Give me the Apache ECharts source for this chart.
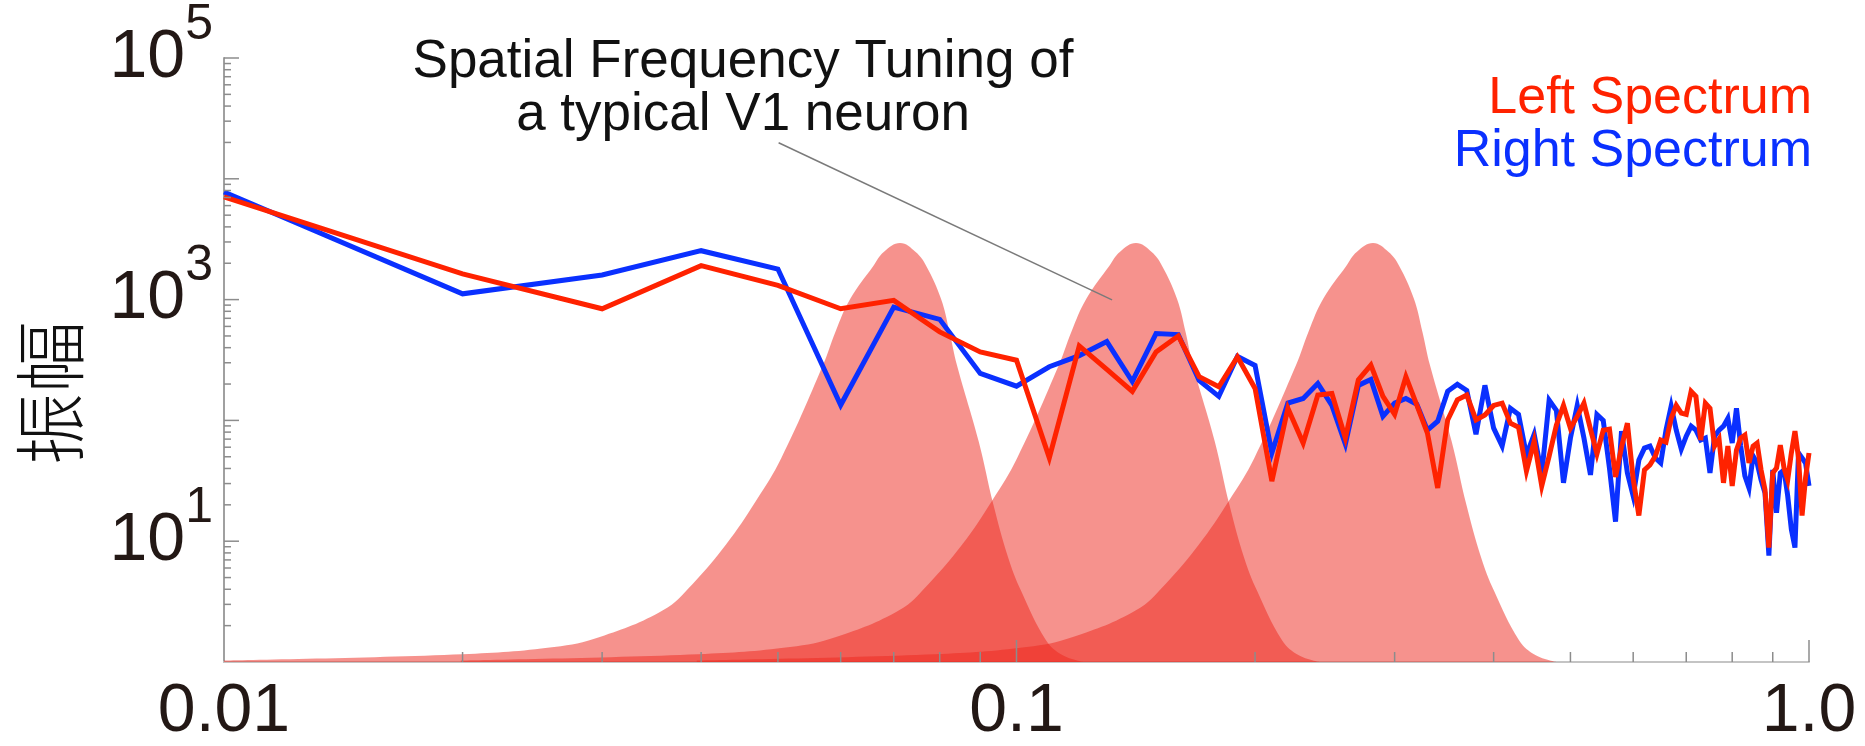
<!DOCTYPE html>
<html>
<head>
<meta charset="utf-8">
<title>Spatial Frequency Spectrum</title>
<script src="https://cdn.jsdelivr.net/npm/echarts@6/dist/echarts.min.js"></script>
<style>
    html, body { margin: 0; padding: 0; background: #fff; }
    #chart { width: 1865px; height: 746px; }
</style>
</head>
<body>
<div id="chart"></div>
<script>
// --- data ---

// spatial frequency, one sample every 0.01
const freqs = [
    0.01, 0.02, 0.03, 0.04, 0.05, 0.06, 0.07, 0.08, 0.09, 0.10,
    0.11, 0.12, 0.13, 0.14, 0.15, 0.16, 0.17, 0.18, 0.19, 0.20,
    0.21, 0.22, 0.23, 0.24, 0.25, 0.26, 0.27, 0.28, 0.29, 0.30,
    0.31, 0.32, 0.33, 0.34, 0.35, 0.36, 0.37, 0.38, 0.39, 0.40,
    0.41, 0.42, 0.43, 0.44, 0.45, 0.46, 0.47, 0.48, 0.49, 0.50,
    0.51, 0.52, 0.53, 0.54, 0.55, 0.56, 0.57, 0.58, 0.59, 0.60,
    0.61, 0.62, 0.63, 0.64, 0.65, 0.66, 0.67, 0.68, 0.69, 0.70,
    0.71, 0.72, 0.73, 0.74, 0.75, 0.76, 0.77, 0.78, 0.79, 0.80,
    0.81, 0.82, 0.83, 0.84, 0.85, 0.86, 0.87, 0.88, 0.89, 0.90,
    0.91, 0.92, 0.93, 0.94, 0.95, 0.96, 0.97, 0.98, 0.99, 1.00
];

const leftSpectrum = [
    7100, 1630, 840, 1910, 1310, 840, 985, 540, 369, 315,
    49, 414, 264, 174, 369, 500, 230, 190, 336, 184,
    31.4, 126, 65, 162, 167, 71.4, 216, 287, 158, 112,
    230, 134, 78.5, 27.6, 101, 148, 162, 101, 111, 133,
    139, 94.8, 87.9, 38.1, 67.4, 28.7, 50.7, 91.3, 133, 86.2,
    108, 139, 84.6, 52.7, 83, 84.6, 34, 60.1, 94.8, 32.8,
    16.3, 38.9, 42.8, 50.7, 68.7, 66.1, 104, 133, 115, 112,
    174, 158, 68.7, 139, 126, 61.3, 70, 30.4, 61.3, 28.7,
    56.8, 71.4, 75.5, 44.4, 61.3, 65, 38.9, 26.6, 8.85, 36.7,
    40.4, 62.5, 40.4, 32.2, 53.7, 81.5, 48.8, 16.3, 33.4, 53.7
];

const rightSpectrum = [
    7770, 1116, 1600, 2540, 1790, 134, 867, 686, 245, 192,
    278, 344, 449, 210, 523, 513, 214, 158, 338, 285,
    53.7, 139, 152, 202, 133, 63.7, 195, 218, 108, 139,
    152, 136, 83, 98.5, 174, 199, 177, 76.9, 195, 86.2,
    61.3, 126, 112, 51.7, 76.9, 36, 147, 121, 30.4, 71.4,
    133, 71.4, 35.4, 112, 100, 40.4, 14.5, 81.5, 36.7, 23.7,
    47, 59, 61.3, 48.8, 44.4, 83, 131, 83, 57.9, 74.1,
    89.6, 83, 68.7, 71.4, 36.7, 74.1, 83, 89.6, 104, 65,
    126, 61.3, 34.7, 27.6, 50.7, 44.4, 32.2, 25.1, 7.61, 38.9,
    17.2, 36.7, 38.9, 23.7, 12.5, 8.85, 53.7, 48.8, 44.4, 28.7
];

// tuning curves of the neuron (same profile, three preferred frequencies)
const tuningAmp = [1.03, 1.16, 1.33, 1.61, 2.68, 4.41, 9.37, 21.5, 48.8, 287, 543, 1016, 1910, 2477, 2940,
                   2477, 1910, 1016, 543, 287, 67, 20.1, 7.33, 3.90, 1.51, 1.14, 1.0];
const tuningFreqA = [0.01, 0.02, 0.0261, 0.0298, 0.0358, 0.0390, 0.0430, 0.0469, 0.0505, 0.0570, 0.0591, 0.0617, 0.0660, 0.0680, 0.0713,
                     0.0746, 0.0769, 0.0803, 0.0823, 0.0841, 0.0896, 0.0935, 0.0976, 0.1013, 0.1090, 0.1144, 0.1217];
const tuningFreqB = [0.0199, 0.0397, 0.0518, 0.0592, 0.0711, 0.0774, 0.0854, 0.0931, 0.1002, 0.1131, 0.1173, 0.1225, 0.1310, 0.1350, 0.1415,
                     0.1481, 0.1526, 0.1594, 0.1634, 0.1669, 0.1779, 0.1856, 0.1937, 0.2011, 0.2164, 0.2271, 0.2416];
const tuningFreqC = [0.0395, 0.0790, 0.1031, 0.1178, 0.1415, 0.1541, 0.1699, 0.1853, 0.1996, 0.2253, 0.2336, 0.2438, 0.2608, 0.2687, 0.2818,
                     0.2948, 0.3039, 0.3173, 0.3252, 0.3324, 0.3541, 0.3695, 0.3857, 0.4003, 0.4308, 0.4521, 0.4810];

// axis ticks and labels
const xMajorTicks = [0.1, 1];
const xMinorTicks = [0.02, 0.03, 0.04, 0.05, 0.06, 0.07, 0.08, 0.09, 0.2, 0.3, 0.4, 0.5, 0.6, 0.7, 0.8, 0.9];
const yMajorTicks = [10, 100, 1000, 10000, 100000];
const yMinorTicks = [
    2, 3, 4, 5, 6, 7, 8, 9,
    20, 30, 40, 50, 60, 70, 80, 90,
    200, 300, 400, 500, 600, 700, 800, 900,
    2000, 3000, 4000, 5000, 6000, 7000, 8000, 9000,
    20000, 30000, 40000, 50000, 60000, 70000, 80000, 90000
];
const xTickLabels = ['0.01', '0.1', '1.0'];   // for 10^-2, 10^-1, 10^0
const yLabelExponents = [1, 3, 5];

// annotation pointer (data coords)
const pointerFrom = [0.0501, 19900];
const pointerTo = [0.132, 996];

// --- chart ---
const RED = '#ff2200';
const BLUE = '#0a30ff';
const INK = '#231815';
const LATIN = '"Liberation Sans", Arial, Helvetica, sans-serif';

const chart = echarts.init(document.getElementById('chart'));

const tuningSeries = [tuningFreqA, tuningFreqB, tuningFreqC].map((fs, n) => ({
    name: 'tuning' + n,
    type: 'line',
    data: fs.map((f, i) => [f, tuningAmp[i]]),
    smooth: 0.4,
    symbol: 'none',
    silent: true,
    lineStyle: { width: 0, opacity: 0 },
    areaStyle: { color: 'rgba(237, 37, 27, 0.5)', opacity: 1, origin: 'start' },
    z: 1
}));

// tick marks: [value, otherCoord, onXAxis(1/0), major(1/0)]
const tickData = [];
xMinorTicks.forEach(v => tickData.push([v, 1, 1, 0]));
xMajorTicks.forEach(v => tickData.push([v, 1, 1, 1]));
yMinorTicks.forEach(v => tickData.push([0.01, v, 0, 0]));
yMajorTicks.forEach(v => tickData.push([0.01, v, 0, 1]));

function renderTick(params, api) {
    const onX = api.value(2) === 1;
    const major = api.value(3) === 1;
    const p = api.coord([api.value(0), api.value(1)]);
    const len = major ? (onX ? 22 : 15) : (onX ? 10 : 7);
    const shape = onX
        ? { x1: p[0], y1: p[1], x2: p[0], y2: p[1] - len }
        : { x1: p[0], y1: p[1], x2: p[0] + len, y2: p[1] };
    return { type: 'line', shape: shape, style: { stroke: '#8c8c8c', lineWidth: 1.5 } };
}

const option = {
    animation: false,
    backgroundColor: '#ffffff',
    grid: { left: 224, right: 56, top: 58, bottom: 81, containLabel: false },
    xAxis: {
        type: 'log',
        logBase: 10,
        min: 0.01,
        max: 1,
        axisLine: { show: true, lineStyle: { color: '#c4c4c4', width: 2 } },
        axisTick: { show: false },
        splitLine: { show: false },
        axisLabel: {
            showMinLabel: true,
            showMaxLabel: true,
            margin: 16,
            color: INK,
            fontSize: 68,
            fontFamily: LATIN,
            formatter: v => xTickLabels[Math.round(Math.log10(v)) + 2] || ''
        }
    },
    yAxis: {
        type: 'log',
        logBase: 10,
        min: 1,
        max: 100000,
        axisLine: { show: true, lineStyle: { color: '#a0a0a0', width: 2 } },
        axisTick: { show: false },
        splitLine: { show: false },
        axisLabel: {
            showMinLabel: true,
            showMaxLabel: true,
            margin: 11,
            formatter: v => {
                const e = Math.round(Math.log10(v));
                return yLabelExponents.includes(e) ? '{b|10}{s|' + e + '}' : '';
            },
            rich: {
                b: { fontSize: 68, lineHeight: 70, color: INK, fontFamily: LATIN },
                s: { fontSize: 50, lineHeight: 50, color: INK, fontFamily: LATIN, padding: [0, 0, 66, 0] }
            }
        }
    },
    graphic: [
        {
            type: 'text', x: 743, y: 36,
            style: {
                text: 'Spatial Frequency Tuning of\na typical V1 neuron',
                font: '53px ' + LATIN, fill: '#111', align: 'center', verticalAlign: 'top', lineHeight: 53
            }
        },
        {
            type: 'text', x: 1812, y: 99,
            style: { text: 'Left Spectrum', font: '52px ' + LATIN, fill: RED, align: 'right', verticalAlign: 'middle' }
        },
        {
            type: 'text', x: 1812, y: 152,
            style: { text: 'Right Spectrum', font: '52px ' + LATIN, fill: BLUE, align: 'right', verticalAlign: 'middle' }
        },
        {
            type: 'text', x: 50, y: 393, rotation: Math.PI / 2,
            style: { text: '振幅', font: '300 72px "Noto Sans CJK SC", sans-serif', fill: '#111', align: 'center', verticalAlign: 'middle' }
        }
    ],
    series: [
        ...tuningSeries,
        {
            name: 'Right Spectrum',
            type: 'line',
            data: freqs.map((f, i) => [f, rightSpectrum[i]]),
            symbol: 'none',
            lineStyle: { color: BLUE, width: 5, join: 'miter', miterLimit: 5 },
            z: 3
        },
        {
            name: 'Left Spectrum',
            type: 'line',
            data: freqs.map((f, i) => [f, leftSpectrum[i]]),
            symbol: 'none',
            lineStyle: { color: RED, width: 5, join: 'miter', miterLimit: 5 },
            markLine: {
                silent: true,
                symbol: ['none', 'none'],
                label: { show: false },
                lineStyle: { color: '#7a7a7a', width: 1.5, type: 'solid' },
                data: [[{ coord: pointerFrom }, { coord: pointerTo }]]
            },
            z: 4
        },
        {
            name: 'ticks',
            type: 'custom',
            renderItem: renderTick,
            data: tickData,
            encode: { x: 0, y: 1 },
            silent: true,
            z: 5
        }
    ]
};

chart.setOption(option);
</script>
</body>
</html>
